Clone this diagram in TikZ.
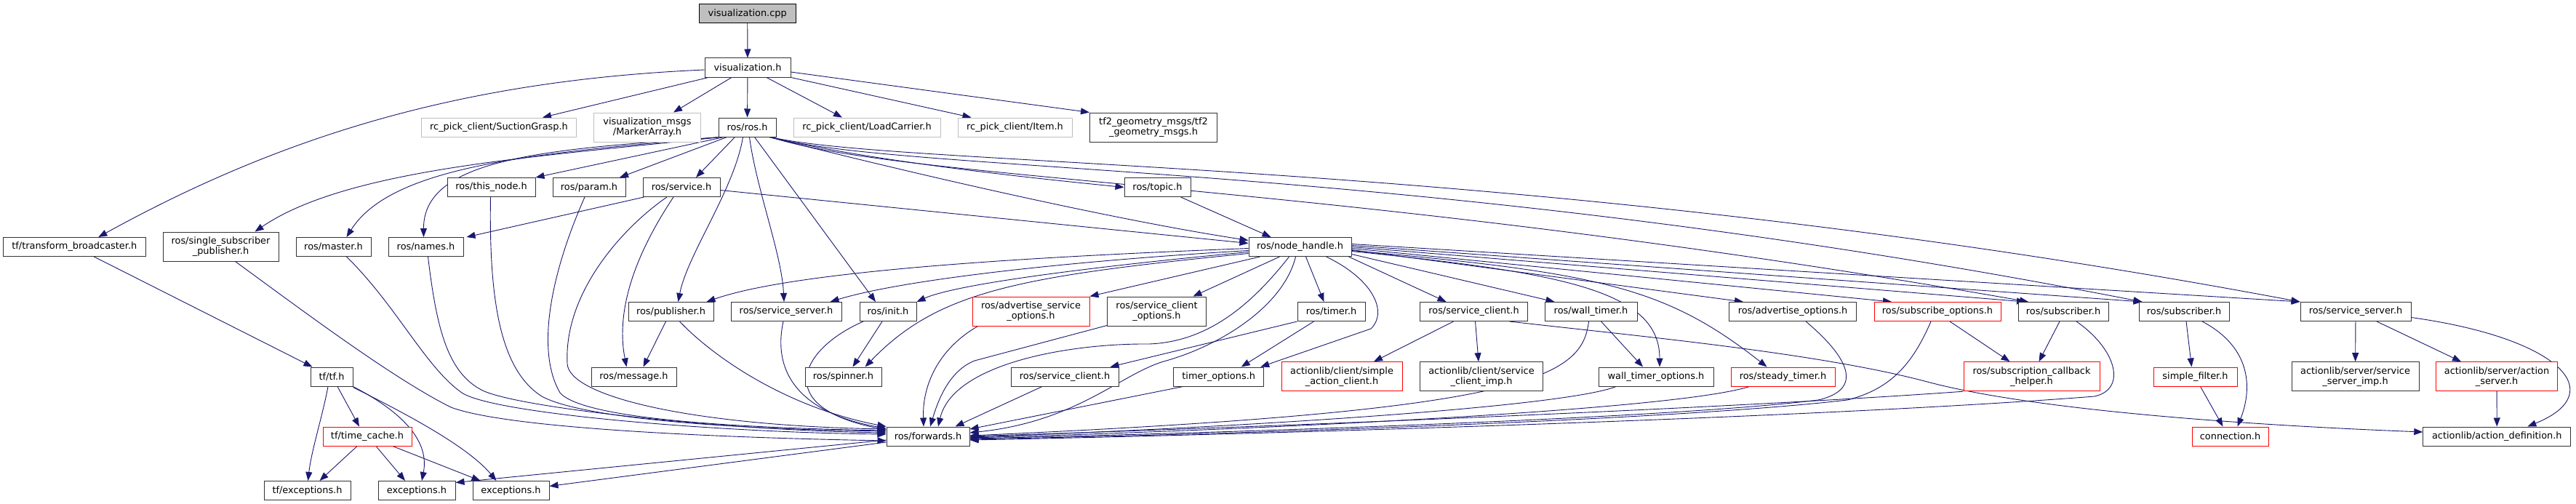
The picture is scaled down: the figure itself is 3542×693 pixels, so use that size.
\documentclass[tikz,border=0pt]{standalone}
\usepackage{fontspec}
\newfontfamily\dv{DejaVu Sans}
\usetikzlibrary{arrows.meta,calc,backgrounds}
\definecolor{edgeblue}{HTML}{191970}
\definecolor{greyS}{HTML}{BFBFBF}
\begin{document}
\begin{tikzpicture}[x=1pt,y=-1pt,
  box/.style={draw=black!80, line width=1pt, fill=white, rectangle, inner sep=0pt,
    minimum height=26pt, font={\dv\fontsize{12.9pt}{14pt}\selectfont}, align=center},
  gbox/.style={box, draw=greyS},
  rbox/.style={box, draw=red},
  rootbox/.style={box, draw=black, fill=greyS},
  tall/.style={minimum height=40pt},
  edge/.style={draw=edgeblue, line width=0.9pt, -{Triangle[length=12pt,width=9pt]}}]
\useasboundingbox (0,0) rectangle (3542,693);
% row 0-1
\node[rootbox, minimum width=133pt] (vcpp) at (1027.7,18.5) {visualization.cpp};
\node[box, minimum width=118pt] (vh) at (1028,93) {visualization.h};
% row 2
\node[gbox, minimum width=213pt] (sg) at (686,175) {rc\_pick\_client/SuctionGrasp.h};
\node[gbox, tall, minimum width=147pt] (ma) at (890,175) {visualization\_msgs\\/MarkerArray.h};
\node[box, minimum width=79pt] (ros) at (1027.5,175) {ros/ros.h};
\node[gbox, minimum width=202pt] (lc) at (1192,175) {rc\_pick\_client/LoadCarrier.h};
\node[gbox, minimum width=157pt] (item) at (1395.5,175) {rc\_pick\_client/Item.h};
\node[box, tall, minimum width=175pt] (tf2) at (1586,175) {tf2\_geometry\_msgs/tf2\\\_geometry\_msgs.h};
% row 3
\node[box, minimum width=121pt] (thisnode) at (675.5,257.5) {ros/this\_node.h};
\node[box, minimum width=100pt] (param) at (810,257.5) {ros/param.h};
\node[box, minimum width=106pt] (service) at (937,257.5) {ros/service.h};
\node[box, minimum width=91pt] (topic) at (1591.5,257.5) {ros/topic.h};
% row 4
\node[box, minimum width=195.5pt] (tfb) at (102.3,339.5) {tf/transform\_broadcaster.h};
\node[box, tall, minimum width=159pt] (ssp) at (303.5,339) {ros/single\_subscriber\\\_publisher.h};
\node[box, minimum width=103pt] (master) at (458.5,339.5) {ros/master.h};
\node[box, minimum width=103pt] (names) at (585.5,339.5) {ros/names.h};
\node[box, minimum width=141pt] (nh) at (1787.5,339.5) {ros/node\_handle.h};
% row 5
\node[box, minimum width=117pt] (pub) at (922.5,428.5) {ros/publisher.h};
\node[box, minimum width=152pt] (ssrv1) at (1081,428.5) {ros/service\_server.h};
\node[box, minimum width=78pt] (init) at (1221,428.5) {ros/init.h};
\node[rbox, tall, minimum width=161pt] (aso) at (1417.5,428) {ros/advertise\_service\\\_options.h};
\node[box, tall, minimum width=136pt] (sco) at (1590.5,428) {ros/service\_client\\\_options.h};
\node[box, minimum width=93pt] (timer) at (1830.5,428.5) {ros/timer.h};
\node[box, minimum width=148pt] (sc1) at (2026.5,428.5) {ros/service\_client.h};
\node[box, minimum width=127pt] (wt) at (2187.5,428.5) {ros/wall\_timer.h};
\node[box, minimum width=175pt] (ao) at (2465,428.5) {ros/advertise\_options.h};
\node[rbox, minimum width=174pt] (so) at (2664,428.5) {ros/subscribe\_options.h};
\node[box, minimum width=124pt] (sub1) at (2837,428.5) {ros/subscriber.h};
\node[box, minimum width=124pt] (sub2) at (3003,428.5) {ros/subscriber.h};
\node[box, minimum width=152pt] (ssrv2) at (3239,428.5) {ros/service\_server.h};
% row 6
\node[box, minimum width=58pt] (tftf) at (456,518) {tf/tf.h};
\node[box, minimum width=117pt] (msg) at (871.5,518) {ros/message.h};
\node[box, minimum width=105pt] (spin) at (1159.5,518) {ros/spinner.h};
\node[box, minimum width=148pt] (sc2) at (1464,518) {ros/service\_client.h};
\node[box, minimum width=124pt] (topt) at (1675.7,518) {timer\_options.h};
\node[rbox, tall, minimum width=166pt] (sac) at (1845,517.7) {actionlib/client/simple\\\_action\_client.h};
\node[box, tall, minimum width=169pt] (scimp) at (2037,517.7) {actionlib/client/service\\\_client\_imp.h};
\node[box, minimum width=158pt] (wto) at (2277,518) {wall\_timer\_options.h};
\node[rbox, minimum width=143pt] (st) at (2451.5,518) {ros/steady\_timer.h};
\node[rbox, tall, minimum width=187pt] (sch) at (2793.5,517.7) {ros/subscription\_callback\\\_helper.h};
\node[rbox, minimum width=115pt] (sf) at (3018.5,518) {simple\_filter.h};
\node[box, tall, minimum width=175pt] (ssimp) at (3238.5,517.7) {actionlib/server/service\\\_server\_imp.h};
\node[rbox, tall, minimum width=167pt] (as) at (3433,517.7) {actionlib/server/action\\\_server.h};
% row 7
\node[rbox, minimum width=122pt] (tc) at (505,600) {tf/time\_cache.h};
\node[box, minimum width=114pt] (fw) at (1276,600) {ros/forwards.h};
\node[rbox, minimum width=105pt] (conn) at (3066.5,600) {connection.h};
\node[box, minimum width=203pt] (ad) at (3433.3,600) {actionlib/action\_definition.h};
% row 8
\node[box, minimum width=119pt] (tfex) at (422.5,674.5) {tf/exceptions.h};
\node[box, minimum width=106pt] (ex1) at (573,674.5) {exceptions.h};
\node[box, minimum width=105pt] (ex2) at (702.5,674.5) {exceptions.h};

\begin{scope}[on background layer]
\fill[white] (0,0) rectangle (3542,693);
% visualization.cpp / visualization.h
\draw[edge] (vcpp) -- (vh);
\draw[edge] ($(vh.west)+(0,3)$) .. controls (650,110) and (400,180) .. ($(tfb.north)+(33,0)$);
\draw[edge] ($(vh.south)+(-54,0)$) -- ($(sg.north)+(60,0)$);
\draw[edge] ($(vh.south)+(-22,0)$) -- ($(ma.north)+(36,0)$);
\draw[edge] (vh) -- (ros);
\draw[edge] ($(vh.south)+(26,0)$) -- ($(lc.north)+(-34,0)$);
\draw[edge] (vh.south east) -- ($(item.north)+(-60,0)$);
\draw[edge] ($(vh.east)+(0,6)$) -- (tf2.north west);
% ros/ros.h
\draw[edge] ($(ros.south)+(-32,0)$) -- (thisnode.north east);
\draw[edge] ($(ros.south)+(-28,0)$) -- ($(param.north)+(42,0)$);
\draw[edge] ($(ros.south)+(-17,0)$) -- ($(service.north)+(20,0)$);
\draw[edge] ($(ros.south west)+(3,0)$) .. controls (760,205) and (582,215) .. ($(names.north)+(-3,0)$);
\draw[edge] ($(ros.south west)+(3,0)$) .. controls (750,210) and (540,225) .. ($(master.north)+(18,0)$);
\draw[edge] ($(ros.south west)+(3,0)$) .. controls (750,215) and (480,230) .. ($(ssp.north)+(47,0)$);
\draw[edge] ($(ros.south)+(-6,0)$) .. controls (1010,260) and (945,350) .. ($(pub.north)+(10,0)$);
\draw[edge] ($(ros.south)+(3,0)$) .. controls (1040,260) and (1075,350) .. ($(ssrv1.north)+(-3,0)$);
\draw[edge] ($(ros.south)+(10,0)$) -- ($(init.north)+(-17,0)$);
\draw[edge] ($(ros.south east)+(-10,0)$) .. controls (1200,222) and (1420,245) .. (topic.west);
\draw[edge] ($(ros.south east)+(-10,0)$) .. controls (1300,250) and (1550,305) .. ($(nh.west)+(0,-9)$);
\draw[edge] ($(ros.south east)+(-8,0)$) .. controls (1250,250) and (1850,250) .. ($(sub1.north)+(-48,0)$);
\draw[edge] ($(ros.south east)+(-8,0)$) .. controls (1250,240) and (1950,220) .. ($(sub2.north west)+(5,0)$);
\draw[edge] ($(ros.south east)+(-8,0)$) .. controls (1250,232) and (2100,215) .. (ssrv2.north west);
% ros/service.h, ros/topic.h
\draw[edge] ($(service.south west)+(2,0)$) -- ($(names.north east)+(4,0)$);
\draw[edge] ($(service.east)+(0,4)$) -- ($(nh.west)+(0,-5)$);
\draw[edge] ($(topic.south)+(32,0)$) -- ($(nh.north)+(-40,0)$);
\draw[edge] ($(service.south)+(-11,0)$) .. controls (880,340) and (845,420) .. ($(msg.north)+(-10,0)$);
\draw[edge] ($(service.south)+(-20,0)$) .. controls (860,310) and (775,400) .. (780,500) .. controls (782,545) and (950,585) .. ($(fw.west)+(0,-10)$);
% left bundle into ros/forwards.h
\draw[edge] ($(thisnode.south)+(-1,0)$) .. controls (672,420) and (690,510) .. (745,545) .. controls (800,575) and (1000,590) .. ($(fw.west)+(0,-7)$);
\draw[edge] ($(param.south)+(-6,0)$) .. controls (760,370) and (735,480) .. (770,540) .. controls (800,575) and (1000,588) .. ($(fw.west)+(0,-8)$);
\draw[edge] ($(names.south)+(3,0)$) .. controls (600,450) and (615,510) .. (660,535) .. controls (700,560) and (1000,592) .. ($(fw.west)+(0,-5)$);
\draw[edge] ($(master.south)+(18,0)$) .. controls (545,420) and (585,505) .. (635,540) .. controls (680,570) and (1000,595) .. ($(fw.west)+(0,-3)$);
\draw[edge] ($(ssp.south)+(20,0)$) .. controls (420,430) and (540,520) .. (620,560) .. controls (700,590) and (1000,602) .. ($(fw.west)+(0,6)$);
\draw[edge] ($(pub.south)+(12,0)$) .. controls (980,490) and (1080,560) .. (fw.north west);
\draw[edge] ($(ssrv1.south)+(-4,0)$) .. controls (1060,520) and (1110,570) .. ($(fw.west)+(0,-11)$);
\draw[edge] ($(init.south)+(-34,0)$) .. controls (1100,480) and (1060,560) .. ($(fw.west)+(0,-9)$);
\draw[edge] ($(init.south)+(-8,0)$) -- ($(spin.north)+(13,0)$);
\draw[edge] ($(pub.south)+(-7,0)$) -- ($(msg.north)+(13,0)$);
% ros/node_handle.h
\draw[edge] ($(nh.west)+(0,2)$) .. controls (1450,352) and (1100,370) .. ($(pub.north east)+(-10,0)$);
\draw[edge] ($(nh.west)+(0,5)$) .. controls (1500,357) and (1250,382) .. ($(ssrv1.north east)+(-16,0)$);
\draw[edge] ($(nh.west)+(0,7)$) .. controls (1550,362) and (1320,388) .. (init.north east);
\draw[edge] ($(nh.west)+(0,9)$) .. controls (1400,380) and (1290,400) .. ($(spin.north)+(30,0)$);
\draw[edge] ($(nh.south)+(-55,0)$) -- (aso.north east);
\draw[edge] ($(nh.south)+(-28,0)$) -- ($(sco.north)+(50,0)$);
\draw[edge] ($(nh.south)+(-15,0)$) .. controls (1720,420) and (1660,470) .. (1580,473) .. controls (1470,472) and (1310,500) .. ($(fw.north)+(14,0)$);
\draw[edge] ($(nh.south)+(-6,0)$) .. controls (1765,420) and (1680,475) .. (1600,497) .. controls (1540,515) and (1480,580) .. ($(fw.east)+(0,-5)$);
\draw[edge] ($(nh.south)+(8,0)$) -- ($(timer.north)+(-10,0)$);
\draw[edge] ($(nh.south)+(36,0)$) .. controls (1890,385) and (1908,430) .. (1885,452) -- ($(topt.north east)+(-5,0)$);
\draw[edge] ($(nh.south east)+(-4,0)$) -- ($(sc1.north)+(-38,0)$);
\draw[edge] ($(nh.east)+(0,10)$) -- ($(wt.north)+(-50,0)$);
\draw[edge] ($(nh.east)+(0,6)$) .. controls (2150,375) and (2282,400) .. ($(wto.north)+(5,0)$);
\draw[edge] ($(nh.east)+(0,5)$) .. controls (2200,375) and (2290,395) .. ($(st.north)+(-22,0)$);
\draw[edge] ($(nh.east)+(0,4)$) -- ($(ao.north)+(-68,0)$);
\draw[edge] ($(nh.east)+(0,2)$) -- ($(so.north)+(-63,0)$);
\draw[edge] (nh.east) -- ($(sub1.north)+(-52,0)$);
\draw[edge] ($(nh.east)+(0,-2)$) -- ($(sub2.north west)+(5,0)$);
\draw[edge] ($(nh.east)+(0,-4)$) -- (ssrv2.north west);
% timer, options, into forwards from the right
\draw[edge] (timer.south west) -- ($(sc2.north east)+(-12,0)$);
\draw[edge] ($(timer.south)+(-24,0)$) -- ($(topt.north)+(31,0)$);
\draw[edge] ($(wt.south)+(14,0)$) -- ($(wto.north)+(-18,0)$);
\draw[edge] ($(sc2.south)+(-31,0)$) -- ($(fw.north east)+(-20,0)$);
\draw[edge] ($(topt.south)+(-49,0)$) -- ($(fw.east)+(0,-10)$);
\draw[edge] ($(aso.south west)+(8,0)$) .. controls (1290,480) and (1268,530) .. ($(fw.north)+(-6,0)$);
\draw[edge] ($(sco.south west)+(0,-1)$) -- (1340,496) .. controls (1305,510) and (1290,550) .. ($(fw.north)+(3,0)$);
\draw[edge] ($(wt.south)+(-3,0)$) .. controls (2175,520) and (2100,565) .. ($(fw.east)+(0,-1)$);
\draw[edge] ($(wto.south)+(-55,0)$) .. controls (2150,560) and (1700,588) .. ($(fw.east)+(0,1)$);
\draw[edge] ($(st.south)+(-46,0)$) .. controls (2300,565) and (1700,592) .. ($(fw.east)+(0,2)$);
\draw[edge] ($(ao.south)+(18,0)$) .. controls (2540,490) and (2565,535) .. (2500,550) .. controls (2300,575) and (1700,595) .. ($(fw.east)+(0,3)$);
\draw[edge] ($(so.south)+(-9,0)$) .. controls (2630,500) and (2600,535) .. (2540,550) .. controls (2300,578) and (1700,597) .. ($(fw.east)+(0,4)$);
\draw[edge] ($(sub1.south)+(18,0)$) .. controls (2910,480) and (2925,535) .. (2880,545) .. controls (2500,575) and (1700,598) .. ($(fw.east)+(0,5)$);
\draw[edge] (sch.south west) .. controls (2400,560) and (1800,585) .. ($(fw.east)+(0,0)$);
% subscribers, servers, clients
\draw[edge] ($(so.south)+(17,0)$) -- ($(sch.north)+(-30,0)$);
\draw[edge] ($(sub1.south)+(-5,0)$) -- ($(sch.north)+(10,0)$);
\draw[edge] ($(sub2.south)+(3,0)$) -- ($(sf.north)+(-5,0)$);
\draw[edge] ($(sub2.south)+(25,0)$) .. controls (3100,480) and (3095,540) .. ($(conn.north)+(10,0)$);
\draw[edge] ($(sf.south)+(7,0)$) -- ($(conn.north)+(-10,0)$);
\draw[edge] (ssrv2) -- (ssimp);
\draw[edge] ($(ssrv2.south)+(29,0)$) -- ($(as.north)+(-49,0)$);
\draw[edge] ($(ssrv2.east)+(0,8)$) .. controls (3520,465) and (3590,540) .. ($(ad.north)+(42,0)$);
\draw[edge] (as) -- (ad);
\draw[edge] ($(sc1.south)+(-28,0)$) -- ($(sac.north)+(44,0)$);
\draw[edge] ($(sc1.south)+(2,0)$) -- ($(scimp.north)+(-4,0)$);
\draw[edge] ($(sc1.south)+(49,0)$) .. controls (2250,462) and (2500,485) .. (2650,525) .. controls (2800,565) and (3100,585) .. ($(ad.west)+(0,-6)$);
% tf
\draw[edge] ($(tfb.south)+(27,0)$) -- ($(tftf.north west)+(3,0)$);
\draw[edge] ($(tftf.south)+(-5,0)$) .. controls (444,570) and (428,620) .. ($(tfex.north)+(1,0)$);
\draw[edge] ($(tftf.south)+(8,0)$) -- ($(tc.north)+(-11,0)$);
\draw[edge] (tftf.south east) .. controls (560,570) and (590,610) .. ($(ex1.north)+(7,0)$);
\draw[edge] ($(tftf.south east)+(0,1)$) .. controls (540,560) and (640,610) .. ($(ex2.north)+(-20,0)$);
\draw[edge] ($(tc.south)+(-14,0)$) -- ($(tfex.north)+(17,0)$);
\draw[edge] ($(tc.south)+(12,0)$) -- ($(ex1.north)+(-16,0)$);
\draw[edge] ($(tc.south)+(35,0)$) -- ($(ex2.north)+(-42,0)$);
\draw[edge] ($(fw.west)+(0,5)$) -- ($(ex1.east)+(0,-11)$);
\draw[edge] ($(fw.west)+(0,8)$) -- ($(ex2.east)+(0,-6)$);
\end{scope}
\end{tikzpicture}
\end{document}
